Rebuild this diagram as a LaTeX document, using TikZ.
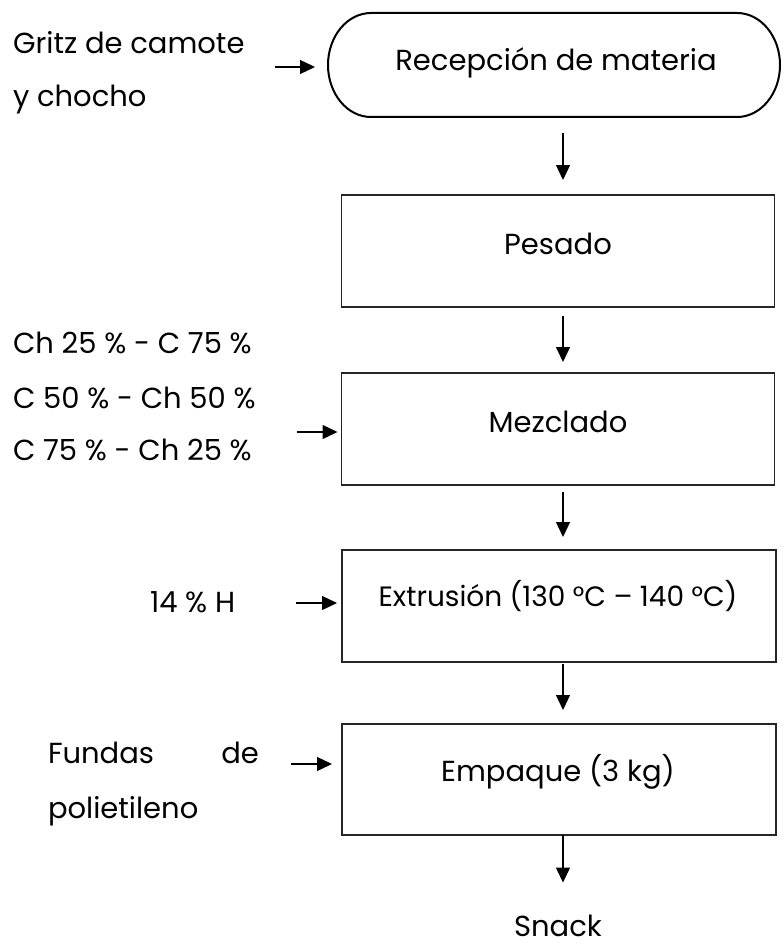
\documentclass[tikz,border=0pt]{standalone}
\usepackage{fontspec}
\setmainfont{Poppins}
\usetikzlibrary{arrows.meta}

\begin{document}
\begin{tikzpicture}[x=1pt,y=-1pt,
  every node/.style={font=\fontsize{29}{34}\selectfont, inner sep=0pt, outer sep=0pt},
  txt/.style={anchor=base west},
  ctxt/.style={anchor=base},
  procbox/.style={draw=black!85, line width=1.4pt, minimum width=433pt, minimum height=112pt},
  flow/.style={line width=1.3pt, -{Triangle[length=15pt,width=14pt]}}]

\useasboundingbox (0,0) rectangle (782,947);

% start terminal with elliptic ends
\node[minimum width=452pt, minimum height=104pt] (rec) at (554,65) {};
\draw[line width=2pt] ([xshift=43pt]rec.north west) -- ([xshift=-43pt]rec.north east)
  arc[start angle=90, end angle=-90, x radius=43pt, y radius=52pt]
  -- ([xshift=43pt]rec.south west)
  arc[start angle=270, end angle=90, x radius=43pt, y radius=52pt] -- cycle;
\node[ctxt] (recT) at (556,71) {Recepción de materia};

% process steps
\node[procbox] (pes) at (558,251) {};
\node[ctxt] (pesT) at (558,254) {Pesado};
\node[procbox] (mez) at (558,429) {};
\node[ctxt] (mezT) at (558,432) {Mezclado};
\node[procbox, minimum width=434pt] (ext) at (559,606) {};
\node[ctxt, font=\fontsize{28}{34}\selectfont] (extT) at (558,606) {Extrusión (130 °C – 140 °C)};
\node[procbox, minimum width=434pt, minimum height=111pt] (emp) at (559,779.5) {};
\node[ctxt] (empT) at (558,781) {Empaque (3 kg)};
\node[ctxt] (snack) at (558,936) {Snack};

% main flow
\coordinate (spine) at (563,0);
\draw[flow, shorten <=16pt, shorten >=15pt] (rec.south -| spine) -- (pes.north -| spine);
\draw[flow, shorten <=9pt, shorten >=11pt] (pes.south -| spine) -- (mez.north -| spine);
\draw[flow, shorten <=7pt, shorten >=13pt] (mez.south -| spine) -- (ext.north -| spine);
\draw[flow, shorten <=2pt, shorten >=14pt] (ext.south -| spine) -- (emp.north -| spine);
\draw[flow, shorten >=32pt] (emp.south -| spine) -- (snack.north -| spine);

% inputs
\node[txt] (g1) at (13,54) {Gritz de camote};
\node[txt] (g2) at (13,107) {y chocho};
\coordinate (gIn) at (275,67);
\draw[flow, shorten >=13pt] (gIn) -- (gIn -| rec.west);

\node[txt] (m1) at (13,353) {Ch 25 \% - C 75 \%};
\node[txt] (m2) at (13,408) {C 50 \% - Ch 50 \%};
\node[txt] (m3) at (13,460) {C 75 \% - Ch 25 \%};
\coordinate (mIn) at (297,432);
\draw[flow, shorten >=4pt] (mIn) -- (mIn -| mez.west);

\node[txt] (h) at (150,612) {14 \% H};
\coordinate (eIn) at (296,603);
\draw[flow, shorten >=5pt] (eIn) -- (eIn -| ext.west);

\node[txt] (f1) at (48,763) {\makebox[211pt][s]{Fundas de}};
\node[txt] (f2) at (48,818) {polietileno};
\coordinate (pIn) at (291,764);
\draw[flow, shorten >=10pt] (pIn) -- (pIn -| emp.west);
\end{tikzpicture}
\end{document}
